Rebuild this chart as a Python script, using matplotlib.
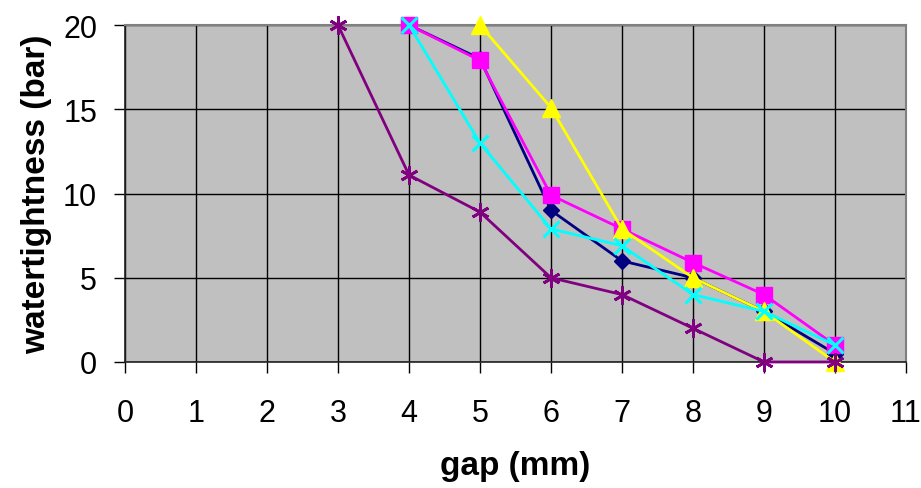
import matplotlib
matplotlib.use("Agg")
import matplotlib.pyplot as plt

plt.rcParams['font.family'] = ['Liberation Sans', 'DejaVu Sans']

gap_navy = [4, 5, 6, 7, 8, 9, 10]
val_navy = [20, 18, 9, 6, 5, 3, 0.5]
gap_magenta = [4, 5, 6, 7, 8, 9, 10]
val_magenta = [20, 17.9, 9.9, 7.9, 5.9, 4, 1]
gap_yellow = [5, 6, 7, 8, 9, 10]
val_yellow = [20, 15.1, 7.9, 5, 3, 0]
gap_cyan = [4, 5, 6, 7, 8, 9, 10]
val_cyan = [20, 13, 7.9, 6.9, 4, 3, 1]
gap_purple = [3, 4, 5, 6, 7, 8, 9, 10]
val_purple = [20, 11.1, 8.9, 5, 4, 2, 0, 0]

xticks = list(range(0, 12))
yticks = [0, 5, 10, 15, 20]

fig = plt.figure(figsize=(9.21, 4.89), dpi=100)
ax = fig.add_axes([0.1357, 0.2577, 0.848, 0.689])
ax.set_facecolor('#C0C0C0')

ax.plot(gap_navy, val_navy, color='#000080', marker='D', markersize=8, lw=2, zorder=3, clip_on=False)
ax.plot(gap_magenta, val_magenta, color='#FF00FF', marker='s', markersize=12, lw=2, zorder=4, clip_on=False)
ax.plot(gap_yellow, val_yellow, color='#FFFF00', marker='^', markersize=13, lw=2, zorder=5, clip_on=False)
ax.plot(gap_cyan, val_cyan, color='#00FFFF', marker='x', markersize=12, mew=2.2, lw=2, zorder=6, clip_on=False)
ax.plot(gap_purple, val_purple, color='#800080', marker=(6, 2, 0), markersize=13, mew=2, lw=2, zorder=7, clip_on=False)

ax.set_xlim(0, 11)
ax.set_ylim(0, 20)
ax.set_xticks(xticks)
ax.set_yticks(yticks)
ax.grid(True, color='black', lw=1.0)
ax.set_axisbelow(True)
for s in ['top', 'right']:
    ax.spines[s].set_color('#808080')
    ax.spines[s].set_linewidth(1.5)
for s in ['left', 'bottom']:
    ax.spines[s].set_color('#202020')
    ax.spines[s].set_linewidth(1.2)
ax.tick_params(axis='both', direction='out', length=8, width=1, labelsize=22, colors='black')
ax.tick_params(axis='x', pad=18)
ax.tick_params(axis='y', pad=12)
ax.set_xlabel('gap (mm)', fontsize=24, fontweight='bold', labelpad=16)
ax.set_ylabel('watertightness (bar)', fontsize=24, fontweight='bold', labelpad=8)

fig.savefig('out.png', dpi=100)
